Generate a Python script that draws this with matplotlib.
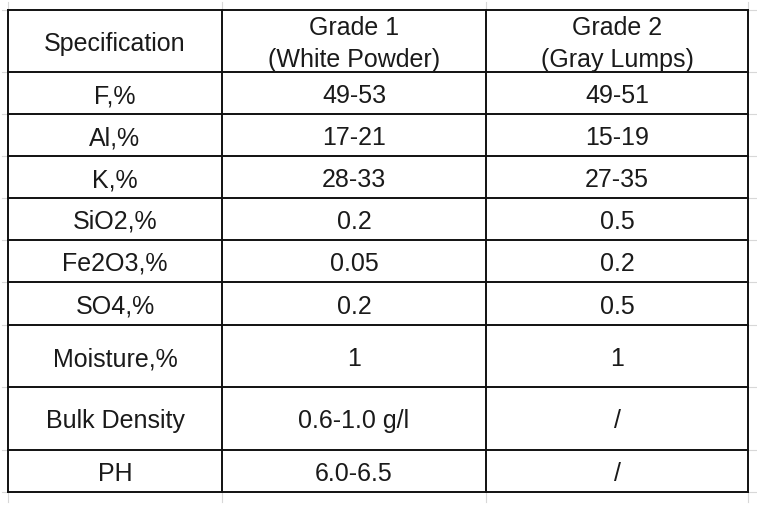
import matplotlib.pyplot as plt

# table content
header = ["Specification", "Grade 1\n(White Powder)", "Grade 2\n(Gray Lumps)"]
specs = ["F,%", "Al,%", "K,%", "SiO2,%", "Fe2O3,%", "SO4,%", "Moisture,%", "Bulk Density", "PH"]
grade1 = ["49-53", "17-21", "28-33", "0.2", "0.05", "0.2", "1", "0.6-1.0 g/l", "6.0-6.5"]
grade2 = ["49-51", "15-19", "27-35", "0.5", "0.2", "0.5", "1", "/", "/"]

# layout (pixels)
col_edges = [8, 222, 486, 748]
row_edges = [11, 73, 115, 157, 199, 241, 283, 326, 388, 451, 493]

plt.rcParams['font.family'] = ['Liberation Sans', 'DejaVu Sans']
fig = plt.figure(figsize=(7.57, 5.06), dpi=100)
ax = fig.add_axes([0, 0, 1, 1])
ax.set_xlim(0, 757)
ax.set_ylim(506, 0)
ax.axis('off')

# faint spreadsheet grid stubs outside the table
for x in col_edges:
    ax.plot([x, x], [3, row_edges[0]], color='#d8d8d8', lw=0.8)
    ax.plot([x, x], [row_edges[-1], 503], color='#d8d8d8', lw=0.8)
for y in row_edges:
    ax.plot([2, col_edges[0]], [y, y], color='#d8d8d8', lw=0.8)
    ax.plot([col_edges[-1], 756], [y, y], color='#d8d8d8', lw=0.8)

# table borders
for x in col_edges:
    ax.plot([x, x], [row_edges[0], row_edges[-1]], color='#111111', lw=1.4,
            solid_capstyle='projecting')
for y in row_edges:
    ax.plot([col_edges[0], col_edges[-1]], [y, y], color='#111111', lw=1.4,
            solid_capstyle='projecting')

rows = [header] + [[s, g1, g2] for s, g1, g2 in zip(specs, grade1, grade2)]
for i, row in enumerate(rows):
    yc = (row_edges[i] + row_edges[i + 1]) / 2
    for j, txt in enumerate(row):
        xc = (col_edges[j] + col_edges[j + 1]) / 2
        ax.text(xc, yc + 2, txt, ha='center', va='center', fontsize=18,
                color='#1a1a1a', linespacing=1.4)

fig.savefig('out.png', dpi=100)
